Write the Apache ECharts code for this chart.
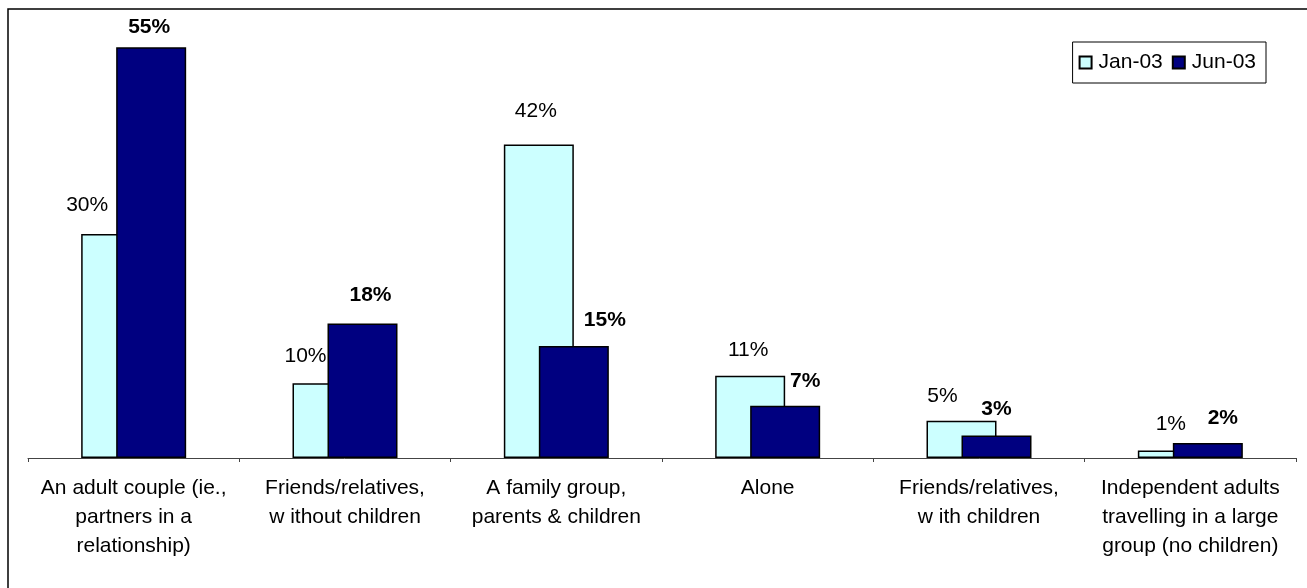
<!DOCTYPE html>
<html>
<head>
<meta charset="utf-8">
<script src="https://cdn.jsdelivr.net/npm/echarts@6/dist/echarts.min.js"></script>
<style>
  html, body { margin: 0; padding: 0; background: #fff; }
  #chart { width: 1307px; height: 588px; }
</style>
</head>
<body>
<div id="chart"></div>
<script>
// Travel party composition, two survey waves (percent of respondents)
var categories = [
  'An adult couple (ie.,\npartners in a\nrelationship)',
  'Friends/relatives,\nw ithout children',
  'A family group,\nparents & children',
  'Alone',
  'Friends/relatives,\nw ith children',
  'Independent adults\ntravelling in a large\ngroup (no children)'
];
var seriesNames = ['Jan-03', 'Jun-03'];
var jan03 = [30, 10, 42, 11, 5, 1];
var jun03 = [55, 18, 15, 7, 3, 2];

// Label nudges [dx, gap above bar top] so overlapping-bar labels stay clear
var janLabelShift = [[-29, 29], [-22, 27], [-3, 33], [-2, 26], [-19, 24], [-2, 26]];
var junLabelShift = [[-2, 20], [8, 28], [31, 26], [20, 25], [0, 26], [15, 25]];

var FONT = '"Liberation Sans", Arial, sans-serif';
var FS = 21;

function withLabels(values, shifts) {
  return values.map(function (v, i) {
    return {
      value: v,
      label: {
        offset: [shifts[i][0], -(shifts[i][1] - FS / 2)]
      }
    };
  });
}

var chart = echarts.init(document.getElementById('chart'), null, { renderer: 'canvas' });

chart.setOption({
  animation: false,
  backgroundColor: '#ffffff',
  textStyle: { fontFamily: FONT, color: '#000' },
  graphic: [{
    type: 'rect',
    shape: { x: 8, y: 9, width: 1320, height: 600 },
    style: { fill: 'none', stroke: '#000', lineWidth: 1.5 },
    silent: true,
    z: -10
  }],
  legend: {
    data: seriesNames,
    right: 41,
    top: 42,
    orient: 'horizontal',
    itemWidth: 12,
    itemHeight: 12,
    itemGap: 9,
    padding: [9, 10, 9, 6],
    borderColor: '#000',
    borderWidth: 1,
    icon: 'rect',
    textStyle: { fontFamily: FONT, fontSize: FS, color: '#000', padding: [0, 0, 0, 2], lineHeight: 23 }
  },
  grid: { left: 28, right: 11, top: 10, bottom: 130, containLabel: false },
  xAxis: {
    type: 'category',
    data: categories,
    axisLine: { lineStyle: { color: '#444', width: 1 } },
    axisTick: { show: true, length: 4, lineStyle: { color: '#444' } },
    axisLabel: {
      interval: 0,
      margin: 16,
      fontFamily: FONT,
      fontSize: FS,
      lineHeight: 29,
      color: '#000'
    }
  },
  yAxis: {
    type: 'value',
    min: 0,
    max: 60,
    show: false
  },
  series: [{
    name: seriesNames[0],
    type: 'bar',
    barWidth: 70,
    barGap: '-50%',
    itemStyle: { color: '#CCFFFF', borderColor: '#000', borderWidth: 1.5 },
    label: {
      show: true,
      position: 'top',
      distance: 0,
      formatter: '{c}%',
      fontFamily: FONT,
      fontSize: FS,
      lineHeight: FS,
      color: '#000'
    },
    data: withLabels(jan03, janLabelShift)
  }, {
    name: seriesNames[1],
    type: 'bar',
    barWidth: 70,
    barGap: '-50%',
    itemStyle: { color: '#000080', borderColor: '#000', borderWidth: 1.5 },
    label: {
      show: true,
      position: 'top',
      distance: 0,
      formatter: '{c}%',
      fontFamily: FONT,
      fontSize: FS,
      fontWeight: 'bold',
      lineHeight: FS,
      color: '#000'
    },
    data: withLabels(jun03, junLabelShift)
  }]
});
</script>
</body>
</html>
